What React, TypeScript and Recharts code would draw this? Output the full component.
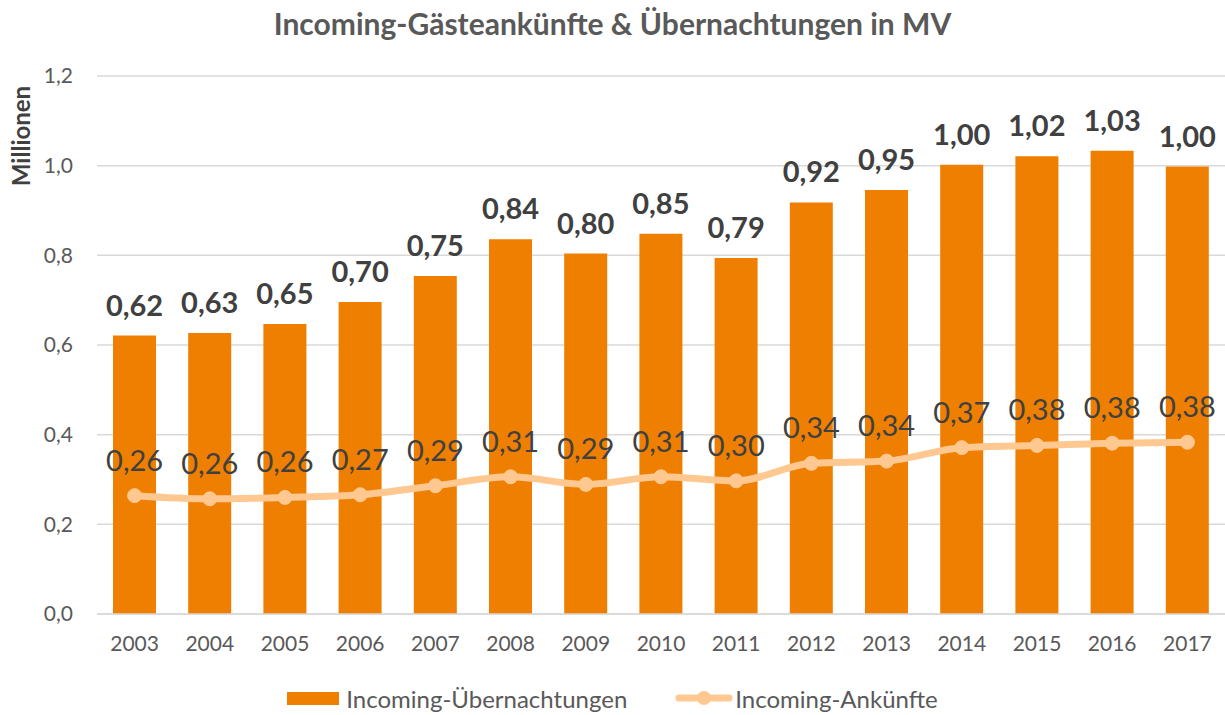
import React from "react";
import {
  ComposedChart, Bar, Line, XAxis, YAxis, CartesianGrid, LabelList,
} from "recharts";

document.body.style.margin = "0";

const FONT = "Lato, 'Open Sans', sans-serif";
const BAR_COLOR = "#EF7F01";
const LINE_COLOR = "#FFC890";

const years = ["2003", "2004", "2005", "2006", "2007", "2008", "2009", "2010", "2011", "2012", "2013", "2014", "2015", "2016", "2017"];
const uebernachtungen = [0.621, 0.627, 0.647, 0.696, 0.754, 0.836, 0.804, 0.848, 0.794, 0.918, 0.946, 1.002, 1.021, 1.033, 0.998];
const ankuenfte = [0.264, 0.257, 0.26, 0.266, 0.286, 0.306, 0.289, 0.306, 0.297, 0.336, 0.341, 0.371, 0.376, 0.381, 0.383];
const yTicks = [0, 0.2, 0.4, 0.6, 0.8, 1.0, 1.2];

const data = years.map((year, i) => ({
  year,
  nights: uebernachtungen[i],
  arrivals: ankuenfte[i],
}));

const fmt2 = (v: number) => v.toFixed(2).replace(".", ",");
const fmt1 = (v: number) => v.toFixed(1).replace(".", ",");

const YLabel = (props: any) => {
  const { viewBox } = props;
  const x = viewBox.x + 20;
  const y = viewBox.y + 60;
  return (
    <text
      x={x}
      y={y}
      transform={`rotate(-90, ${x}, ${y})`}
      textAnchor="middle"
      dominantBaseline="central"
      fill="#404040"
      fontFamily={FONT}
      fontWeight="bold"
      fontSize={24}
    >
      Millionen
    </text>
  );
};

export default function App() {
  return (
    <div style={{ position: "relative", width: 1225, height: 715, background: "#fff", fontFamily: FONT }}>
      <div
        style={{
          position: "absolute", top: 5, left: 0, width: 1225, textAlign: "center",
          fontSize: 30, fontWeight: "bold", color: "#595959",
        }}
      >
        Incoming-Gästeankünfte &amp; Übernachtungen in MV
      </div>
      <ComposedChart
        width={1225}
        height={715}
        data={data}
        margin={{ top: 76, right: 0, left: 0, bottom: 41 }}
      >
        <CartesianGrid vertical={false} stroke="#D9D9D9" strokeWidth={1.5} />
        <XAxis
          dataKey="year"
          height={60}
          tickSize={0}
          tickMargin={22}
          axisLine={{ stroke: "#D9D9D9", strokeWidth: 1.5 }}
          tick={{ fill: "#595959", fontSize: 21, fontFamily: FONT }}
        />
        <YAxis
          width={97}
          domain={[0, 1.2]}
          ticks={yTicks}
          tickFormatter={fmt1}
          axisLine={false}
          tickLine={false}
          tickSize={0}
          tickMargin={24}
          tick={{ fill: "#595959", fontSize: 21, fontFamily: FONT }}
          label={{ content: YLabel }}
        />
        <Bar dataKey="nights" fill={BAR_COLOR} barSize={43} isAnimationActive={false}>
          <LabelList
            dataKey="nights"
            position="top"
            offset={20}
            formatter={fmt2}
            fill="#404040"
            fontSize={29}
            fontWeight="bold"
            fontFamily={FONT}
          />
        </Bar>
        <Line
          dataKey="arrivals"
          type="monotone"
          stroke={LINE_COLOR}
          strokeWidth={7}
          dot={{ r: 7, fill: LINE_COLOR, stroke: LINE_COLOR, strokeWidth: 1 }}
          activeDot={false}
          isAnimationActive={false}
        >
          <LabelList
            dataKey="arrivals"
            position="top"
            offset={25}
            formatter={fmt2}
            fill="#404040"
            fontSize={29}
            fontFamily={FONT}
          />
        </Line>
      </ComposedChart>
      <div
        style={{
          position: "absolute", top: 684, left: 0, width: 1225, height: 28,
          display: "flex", justifyContent: "center", alignItems: "center",
          fontSize: 24, color: "#595959",
        }}
      >
        <span style={{ display: "inline-block", width: 52, height: 13, background: BAR_COLOR, marginRight: 7 }} />
        <span>Incoming-Übernachtungen</span>
        <svg width={58} height={16} style={{ marginLeft: 48, marginRight: 2 }}>
          <line x1={4} y1={8} x2={54} y2={8} stroke={LINE_COLOR} strokeWidth={7} strokeLinecap="round" />
          <circle cx={29} cy={8} r={7} fill={LINE_COLOR} />
        </svg>
        <span>Incoming-Ankünfte</span>
      </div>
    </div>
  );
}
